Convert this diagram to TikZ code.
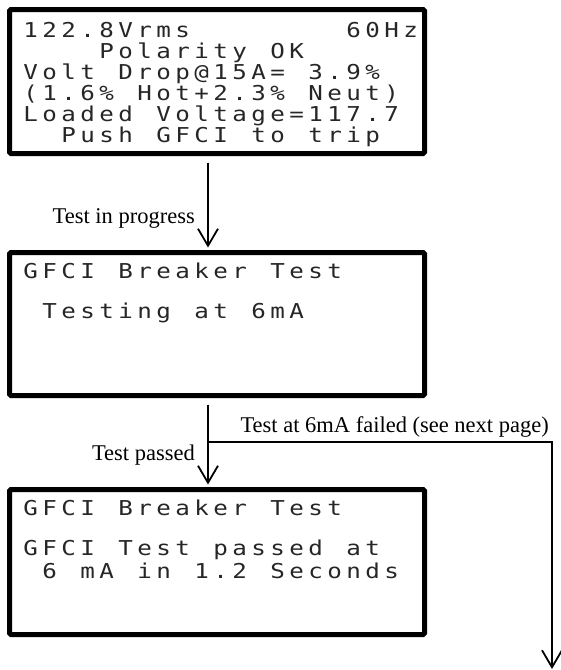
\documentclass[tikz,border=0pt]{standalone}
\usepackage{fontspec}
\setmainfont{Liberation Serif}
\newfontfamily\lcdfont{DejaVu Sans Mono}
\usetikzlibrary{arrows.meta}
\ExplSyntaxOn
\tl_new:N \l_lcdchars_tl
\NewDocumentCommand \lcdline { m }
 {
  \tl_set:Nn \l_lcdchars_tl {#1}
  \tl_map_inline:Nn \l_lcdchars_tl { \makebox[19pt][c]{\scalebox{1.18}[1]{##1}} }
 }
\ExplSyntaxOff
\begin{document}
\begin{tikzpicture}[x=1pt,y=-1pt,
  lcdbox/.style={draw, line width=5pt, rounded corners=1.5pt, minimum width=415pt, inner sep=0pt},
  lcdtxt/.style={anchor=base west, inner sep=0pt, font=\lcdfont\fontsize{20.5}{20.5}\selectfont, text=black!85},
  lbl/.style={anchor=base east, inner sep=0pt, font=\fontsize{22.5}{22.5}\selectfont},
  arr/.style={line width=1.8pt, -{Straight Barb[length=17pt,width=20pt]}}]
\useasboundingbox (0,0) rectangle (561,670);
% screens
\node[lcdbox, minimum height=144pt] (b1) at (217,81.5) {};
\node[lcdbox, minimum height=143pt] (b2) at (217,324) {};
\node[lcdbox, minimum height=145pt] (b3) at (217,562) {};
% screen 1 text
\node[lcdtxt] (t11) at (21,37)  {\lcdline{122.8Vrms~~~~~~~~60Hz}};
\node[lcdtxt] (t12) at (21,58)  {\lcdline{~~~~Polarity~OK}};
\node[lcdtxt] (t13) at (21,79)  {\lcdline{Volt~Drop@15A=~3.9\%}};
\node[lcdtxt] (t14) at (21,100) {\lcdline{(1.6\%~Hot+2.3\%~Neut)}};
\node[lcdtxt] (t15) at (21,121) {\lcdline{Loaded~Voltage=117.7}};
\node[lcdtxt] (t16) at (21,142) {\lcdline{~~Push~GFCI~to~trip}};
% screen 2 text
\node[lcdtxt] (t21) at (21,278) {\lcdline{GFCI~Breaker~Test}};
\node[lcdtxt] (t22) at (21,318) {\lcdline{~Testing~at~6mA}};
% screen 3 text
\node[lcdtxt] (t31) at (21,515) {\lcdline{GFCI~Breaker~Test}};
\node[lcdtxt] (t32) at (21,555) {\lcdline{GFCI~Test~passed~at}};
\node[lcdtxt] (t33) at (21,578) {\lcdline{~6~mA~in~1.2~Seconds}};
% connectors
\coordinate (s) at (208,0);
\coordinate (fork) at (208,442);
\coordinate (failend) at (552,669);
\draw[arr] ([yshift=-6.5pt]s |- b1.south) -- ([yshift=2.5pt]s |- b2.north);
\draw[arr] ([yshift=-6.5pt]s |- b2.south) -- ([yshift=2.5pt]s |- b3.north);
\draw[arr] (fork) -| (failend);
% labels
\node[lbl] (l1) at (195,223) {Test in progress};
\node[lbl] (l2) at (195,460) {Test passed};
\node[lbl] (l3) at (549,432) {Test at 6mA failed (see next page)};
\end{tikzpicture}
\end{document}
